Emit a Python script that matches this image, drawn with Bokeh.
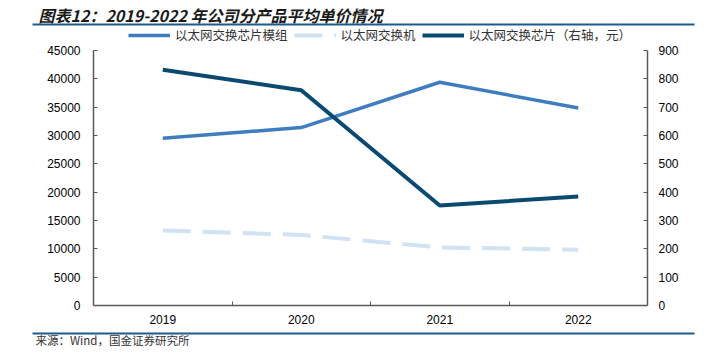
from bokeh.plotting import figure
from bokeh.models import (Range1d, LinearAxis, FixedTicker, Legend, LegendItem,
                          Label, BoxAnnotation)
from bokeh.embed import file_html
from bokeh.resources import INLINE

# ---- data ----
years = ["2019", "2020", "2021", "2022"]
module_price = [29500, 31400, 39400, 34850]   # 以太网交换芯片模组 (left axis)
switch_price = [13250, 12450, 10250, 9850]    # 以太网交换机 (left axis)
chip_price = [832, 760, 353, 385]             # 以太网交换芯片 (right axis, 元)
left_ticks = list(range(0, 45001, 5000))
right_ticks = list(range(0, 901, 100))

title_text = "图表12：2019-2022 年公司分产品平均单价情况"
source_text = "来源：Wind，国金证券研究所"
legend_labels = ["以太网交换芯片模组", "以太网交换机", "以太网交换芯片（右轴，元）"]

xs = list(range(len(years)))

# ---- layout (pixels) ----
W, H = 720, 357
PL, PR, PT, PB = 93, 647, 50, 305       # plot-area edges on the canvas
CJK = "Noto Sans CJK SC"
RULE = "#1f5a8c"
AX_COL = "#595959"
LBL_FONT = "Liberation Sans"

# The frame covers the whole canvas; the data ranges are widened so that the
# plot area lands at PL..PR, PT..PB.  Axes are pinned with fixed_location.
x0, x1 = -0.5, len(years) - 0.5
xpp = (x1 - x0) / (PR - PL)
y0, y1 = left_ticks[0], left_ticks[-1]
ypp = (y1 - y0) / (PB - PT)
r0, r1_ = right_ticks[0], right_ticks[-1]
rpp = (r1_ - r0) / (PB - PT)

p = figure(width=W, height=H, output_backend="svg", toolbar_location=None,
           x_range=Range1d(x0 - PL * xpp, x1 + (W - PR) * xpp),
           y_range=Range1d(y0 - (H - PB) * ypp, y1 + PT * ypp),
           min_border=0, min_border_left=0, min_border_right=0,
           min_border_top=0, min_border_bottom=0,
           x_axis_type=None, y_axis_type=None)
p.extra_y_ranges = {"right": Range1d(r0 - (H - PB) * rpp, r1_ + PT * rpp)}
p.outline_line_color = None
p.background_fill_color = "white"
p.border_fill_color = "white"


def style_axis(ax):
    ax.axis_line_color = AX_COL
    ax.axis_line_width = 1.5
    ax.major_tick_line_color = AX_COL
    ax.major_tick_line_width = 1
    ax.major_tick_in = 4
    ax.major_tick_out = 0
    ax.minor_tick_line_color = None
    ax.major_label_text_font = LBL_FONT
    ax.major_label_text_font_size = "12px"
    ax.major_label_text_color = "#000000"


yl = LinearAxis(ticker=FixedTicker(ticks=left_ticks), fixed_location=x0,
                bounds=(y0, y1))
style_axis(yl)
yl.major_label_standoff = 13
p.add_layout(yl, "left")

yr = LinearAxis(y_range_name="right", ticker=FixedTicker(ticks=right_ticks),
                fixed_location=x1, bounds=(r0, r1_))
style_axis(yr)
yr.major_label_standoff = 11
p.add_layout(yr, "right")

xa = LinearAxis(ticker=FixedTicker(ticks=xs, minor_ticks=[x + 0.5 for x in xs[:-1]]),
                fixed_location=y0, bounds=(x0, x1))
style_axis(xa)
xa.major_tick_line_color = None
xa.minor_tick_line_color = AX_COL
xa.minor_tick_in = 4
xa.minor_tick_out = 0
xa.major_label_overrides = {x: y for x, y in zip(xs, years)}
xa.major_label_standoff = 9
p.add_layout(xa, "below")

r1 = p.line(xs, module_price, line_color="#3f7dc0", line_width=3.5)
r2 = p.line(xs, switch_price, line_color="#d0e2f3", line_width=4, line_dash="28 12")
r3 = p.line(xs, chip_price, y_range_name="right", line_color="#0b4a70", line_width=4)

# legend (bottom-left corner given from the canvas bottom-left)
legend = Legend(items=[LegendItem(label=legend_labels[0], renderers=[r1]),
                       LegendItem(label=legend_labels[1], renderers=[r2]),
                       LegendItem(label=legend_labels[2], renderers=[r3])],
                orientation="horizontal", location=(128, H - 44),
                glyph_width=42, glyph_height=14, label_height=14,
                label_standoff=5, spacing=6, padding=0, margin=0,
                border_line_color=None, background_fill_alpha=0,
                label_text_font=CJK, label_text_font_size="12.5px",
                label_text_color="#333333")
p.add_layout(legend)

# title and rules
p.add_layout(Label(x=38, y=H - 14, x_units="screen", y_units="screen",
                   text=title_text, text_font=CJK,
                   text_font_style="bold italic", text_font_size="16px",
                   text_color="#1a1a1a", text_baseline="middle"))
p.add_layout(BoxAnnotation(left=32, right=694, bottom=H - 25, top=H - 23,
                           left_units="screen", right_units="screen",
                           bottom_units="screen", top_units="screen",
                           fill_color=RULE, fill_alpha=1, line_color=None))
p.add_layout(BoxAnnotation(left=32, right=694, bottom=H - 334, top=H - 332,
                           left_units="screen", right_units="screen",
                           bottom_units="screen", top_units="screen",
                           fill_color=RULE, fill_alpha=1, line_color=None))
p.add_layout(Label(x=35, y=H - 339.5, x_units="screen", y_units="screen",
                   text=source_text, text_font=CJK,
                   text_font_size="11.5px", text_color="#333333",
                   text_baseline="middle"))

open("out.html", "w").write(file_html(p, INLINE))
